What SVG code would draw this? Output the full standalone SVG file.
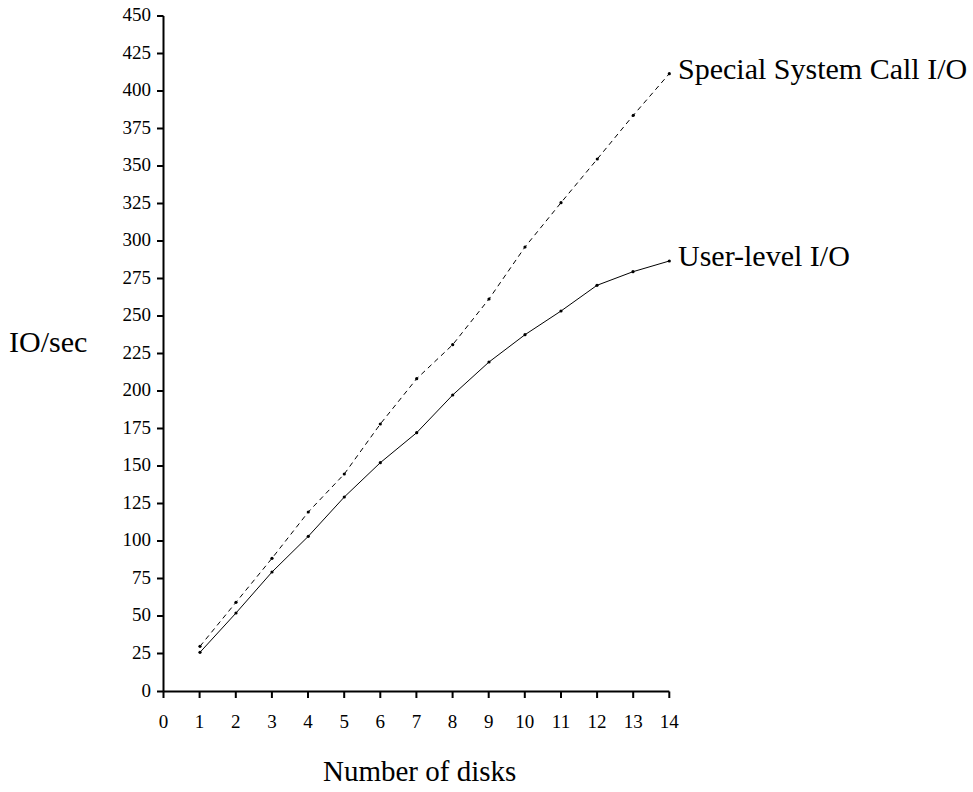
<svg xmlns="http://www.w3.org/2000/svg" width="973" height="792" viewBox="0 0 973 792">
<style>
text{font-family:'Liberation Serif','DejaVu Serif',serif;fill:#000}
.yl{font-size:19px;text-anchor:end}
.xl{font-size:19px;text-anchor:middle}
.big{font-size:30px}
.axis{stroke:#000;stroke-width:2;fill:none}
.ser{stroke:#000;stroke-width:1;fill:none}
.dash{stroke-dasharray:5 4}
.pt{fill:#000}
</style>
<rect width="973" height="792" fill="#fff"/>
<g id="y-axis">
<path class="axis" d="M163.5,16V691.5"/>
<path class="axis" d="M157,16H163.5M157,53.5H163.5M157,91H163.5M157,128.5H163.5M157,166H163.5M157,203.5H163.5M157,241H163.5M157,278.5H163.5M157,316H163.5M157,353.5H163.5M157,391H163.5M157,428.5H163.5M157,466H163.5M157,503.5H163.5M157,541H163.5M157,578.5H163.5M157,616H163.5M157,653.5H163.5M157,691.5H163.5"/>
<text class="yl" x="151" y="21">450</text>
<text class="yl" x="151" y="58.5">425</text>
<text class="yl" x="151" y="96">400</text>
<text class="yl" x="151" y="133.5">375</text>
<text class="yl" x="151" y="171">350</text>
<text class="yl" x="151" y="208.5">325</text>
<text class="yl" x="151" y="246">300</text>
<text class="yl" x="151" y="283.5">275</text>
<text class="yl" x="151" y="321">250</text>
<text class="yl" x="151" y="358.5">225</text>
<text class="yl" x="151" y="396">200</text>
<text class="yl" x="151" y="433.5">175</text>
<text class="yl" x="151" y="471">150</text>
<text class="yl" x="151" y="508.5">125</text>
<text class="yl" x="151" y="546">100</text>
<text class="yl" x="151" y="583.5">75</text>
<text class="yl" x="151" y="621">50</text>
<text class="yl" x="151" y="658.5">25</text>
<text class="yl" x="151" y="696.5">0</text>
<text class="big" x="9" y="352">IO/sec</text>
</g>
<g id="x-axis">
<path class="axis" d="M163.5,691.5H669.3"/>
<path class="axis" d="M163.5,691.5V698M199.6,691.5V698M235.8,691.5V698M271.9,691.5V698M308,691.5V698M344.2,691.5V698M380.3,691.5V698M416.4,691.5V698M452.6,691.5V698M488.7,691.5V698M524.8,691.5V698M561,691.5V698M597.1,691.5V698M633.2,691.5V698M669.3,691.5V698"/>
<text class="xl" x="163.5" y="728">0</text>
<text class="xl" x="199.6" y="728">1</text>
<text class="xl" x="235.8" y="728">2</text>
<text class="xl" x="271.9" y="728">3</text>
<text class="xl" x="308" y="728">4</text>
<text class="xl" x="344.2" y="728">5</text>
<text class="xl" x="380.3" y="728">6</text>
<text class="xl" x="416.4" y="728">7</text>
<text class="xl" x="452.6" y="728">8</text>
<text class="xl" x="488.7" y="728">9</text>
<text class="xl" x="524.8" y="728">10</text>
<text class="xl" x="561" y="728">11</text>
<text class="xl" x="597.1" y="728">12</text>
<text class="xl" x="633.2" y="728">13</text>
<text class="xl" x="669.3" y="728">14</text>
<text x="323" y="781" style="font-size:29px">Number of disks</text>
</g>
<g id="connectors">
<polyline id="special-line" class="ser dash" points="200,646.3 236,602.3 272,558.3 308.3,512 344.3,474 380.3,424 416.7,378.7 452.7,344.7 489,299 525,247 561,202.7 597.3,159 633.3,115.3 669.3,73.7"/>
<polyline id="user-line" class="ser" points="200,652.3 236,613 272,572 308.3,536.3 344.3,497 380.3,462.7 416.7,432.7 452.7,395 489,362 525,334.7 561,311 597,285.3 633,271.7 669.3,261"/>
</g>
<g id="special-points" class="pt">
<circle cx="200" cy="646.3" r="1.6"/><circle cx="236" cy="602.3" r="1.6"/><circle cx="272" cy="558.3" r="1.6"/><circle cx="308.3" cy="512" r="1.6"/><circle cx="344.3" cy="474" r="1.6"/><circle cx="380.3" cy="424" r="1.6"/><circle cx="416.7" cy="378.7" r="1.6"/><circle cx="452.7" cy="344.7" r="1.6"/><circle cx="489" cy="299" r="1.6"/><circle cx="525" cy="247" r="1.6"/><circle cx="561" cy="202.7" r="1.6"/><circle cx="597.3" cy="159" r="1.6"/><circle cx="633.3" cy="115.3" r="1.6"/><circle cx="669.3" cy="73.7" r="1.6"/>
</g>
<g id="user-points" class="pt">
<circle cx="200" cy="652.3" r="1.6"/><circle cx="236" cy="613" r="1.6"/><circle cx="272" cy="572" r="1.6"/><circle cx="308.3" cy="536.3" r="1.6"/><circle cx="344.3" cy="497" r="1.6"/><circle cx="380.3" cy="462.7" r="1.6"/><circle cx="416.7" cy="432.7" r="1.6"/><circle cx="452.7" cy="395" r="1.6"/><circle cx="489" cy="362" r="1.6"/><circle cx="525" cy="334.7" r="1.6"/><circle cx="561" cy="311" r="1.6"/><circle cx="597" cy="285.3" r="1.6"/><circle cx="633" cy="271.7" r="1.6"/><circle cx="669.3" cy="261" r="1.6"/>
</g>
<g id="label-special"><text class="big" x="678" y="79">Special System Call I/O</text></g>
<g id="label-user"><text class="big" x="678" y="266">User-level I/O</text></g>
</svg>
